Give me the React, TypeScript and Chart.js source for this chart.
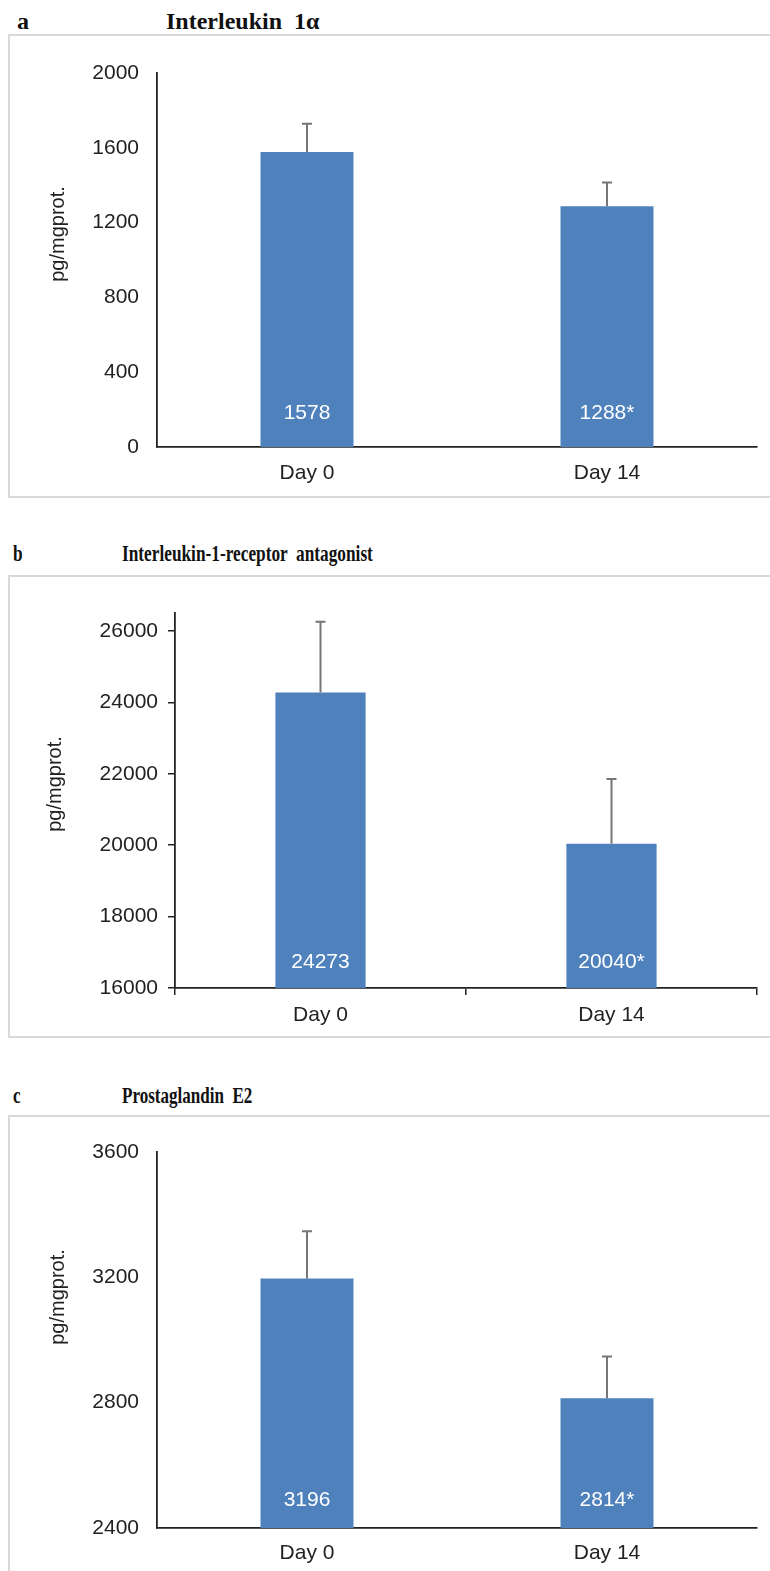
import React, { useEffect, useRef } from 'react';
import { Chart, registerables } from 'chart.js';

Chart.register(...registerables);

// ---------- data ----------
const categories = ['Day 0', 'Day 14'];

const il1aValues = [1578, 1288];
const il1aErrors = [150, 127];
const il1aLabels = ['1578', '1288*'];
const il1aTicks = [0, 400, 800, 1200, 1600, 2000];

const il1raValues = [24273, 20040];
const il1raErrors = [1980, 1815];
const il1raLabels = ['24273', '20040*'];
const il1raTicks = [16000, 18000, 20000, 22000, 24000, 26000];

const pge2Values = [3196, 2814];
const pge2Errors = [151, 133];
const pge2Labels = ['3196', '2814*'];
const pge2Ticks = [2400, 2800, 3200, 3600];

const yTitle = 'pg/mgprot.';

// ---------- styles ----------
const SANS = '"Liberation Sans", Arial, sans-serif';
const SERIF = '"Liberation Serif", "Times New Roman", serif';
const BAR_COLOR = '#4f81bd';
const AXIS_COLOR = '#222222';
const ERR_COLOR = '#767676';

const barExtras = {
  id: 'barExtras',
  afterDatasetsDraw(chart: any, _args: any, opts: any) {
    const ctx = chart.ctx;
    const yScale = chart.scales.y;
    const meta = chart.getDatasetMeta(0);
    const ds = chart.data.datasets[0];
    meta.data.forEach((bar: any, i: number) => {
      const v = ds.data[i] as number;
      const e = opts.errors[i];
      const yTop = yScale.getPixelForValue(v + e);
      ctx.save();
      ctx.strokeStyle = ERR_COLOR;
      ctx.lineWidth = 2;
      ctx.beginPath();
      ctx.moveTo(bar.x, bar.y);
      ctx.lineTo(bar.x, yTop);
      ctx.moveTo(bar.x - 5, yTop);
      ctx.lineTo(bar.x + 5, yTop);
      ctx.stroke();
      ctx.fillStyle = '#ffffff';
      ctx.font = `21px ${SANS}`;
      ctx.textAlign = 'center';
      ctx.textBaseline = 'middle';
      ctx.fillText(opts.labels[i], bar.x, chart.chartArea.bottom - opts.labelOffset);
      ctx.restore();
    });
    ctx.save();
    ctx.fillStyle = AXIS_COLOR;
    ctx.font = `20px ${SANS}`;
    ctx.textAlign = 'center';
    ctx.textBaseline = 'middle';
    ctx.translate(opts.titleX, opts.titleY);
    ctx.rotate(-Math.PI / 2);
    ctx.fillText(opts.title, 0, 0);
    ctx.restore();
  },
};

type PanelProps = {
  letter: string;
  heading: string;
  headingLeft: number;
  headingY: number;
  headingScale: number;
  letterLeft: number;
  boxTop: number;
  boxHeight: number;
  values: number[];
  errors: number[];
  labels: string[];
  ticks: number[];
  min: number;
  max: number;
  areaLeft: number;
  areaTop: number;
  areaBottom: number;
  withTicks: boolean;
  yPad: number;
  xPad: number;
  labelOffset: number;
  titleX: number;
  titleY: number;
};

const CANVAS_W = 760;
const AREA_RIGHT = 747;

function Panel(p: PanelProps) {
  const ref = useRef<HTMLCanvasElement | null>(null);
  const canvasH = p.boxHeight - 4;

  useEffect(() => {
    if (!ref.current) return;
    const tickList = p.ticks;
    const chart = new Chart(ref.current, {
      type: 'bar',
      data: {
        labels: categories,
        datasets: [
          {
            data: p.values,
            backgroundColor: BAR_COLOR,
            borderWidth: 0,
            categoryPercentage: 1,
            barPercentage: 0.31,
          },
        ],
      },
      plugins: [barExtras],
      options: {
        animation: false,
        responsive: false,
        devicePixelRatio: 1,
        layout: { padding: { left: 0, top: p.areaTop, right: CANVAS_W - AREA_RIGHT, bottom: 0 } },
        plugins: {
          legend: { display: false },
          tooltip: { enabled: false },
          title: { display: false },
          barExtras: {
            errors: p.errors,
            labels: p.labels,
            labelOffset: p.labelOffset,
            titleX: p.titleX,
            titleY: p.titleY,
            title: yTitle,
          },
        } as any,
        scales: {
          x: {
            type: 'category',
            offset: true,
            afterFit: (s: any) => {
              s.height = canvasH - p.areaBottom;
            },
            grid: {
              display: p.withTicks,
              drawOnChartArea: false,
              drawTicks: p.withTicks,
              tickLength: 7,
              color: AXIS_COLOR,
              lineWidth: 1.5,
              offset: true,
            },
            border: { display: true, color: AXIS_COLOR, width: 1.8 },
            ticks: {
              color: AXIS_COLOR,
              font: { family: SANS, size: 21 },
              padding: p.xPad,
              maxRotation: 0,
            },
          },
          y: {
            type: 'linear',
            min: p.min,
            max: p.max,
            afterFit: (s: any) => {
              s.width = p.areaLeft;
            },
            afterBuildTicks: (s: any) => {
              s.ticks = tickList.map((v) => ({ value: v }));
            },
            grid: {
              display: p.withTicks,
              drawOnChartArea: false,
              drawTicks: p.withTicks,
              tickLength: 7,
              color: AXIS_COLOR,
              lineWidth: 1.5,
            },
            border: { display: true, color: AXIS_COLOR, width: 1.8 },
            ticks: {
              color: AXIS_COLOR,
              font: { family: SANS, size: 21 },
              padding: p.yPad,
              callback: (v: any) => String(v),
            },
          },
        },
      } as any,
    });
    return () => chart.destroy();
  }, []);

  const headingStyle: React.CSSProperties = {
    position: 'absolute',
    top: p.headingY - 14,
    height: 28,
    lineHeight: '28px',
    fontFamily: SERIF,
    fontWeight: 'bold',
    fontSize: 24,
    color: '#111',
    whiteSpace: 'pre',
    transformOrigin: 'left center',
  };

  return (
    <>
      <div style={{ ...headingStyle, left: p.letterLeft, transform: `scaleX(${p.headingScale})` }}>
        {p.letter}
      </div>
      <div style={{ ...headingStyle, left: p.headingLeft, transform: `scaleX(${p.headingScale})` }}>
        {p.heading}
      </div>
      <div
        style={{
          position: 'absolute',
          left: 8,
          top: p.boxTop,
          width: 772,
          height: p.boxHeight,
          boxSizing: 'border-box',
          border: '2px solid #d9d9d9',
          background: '#fff',
        }}
      >
        <canvas
          ref={ref}
          width={CANVAS_W}
          height={canvasH}
          style={{ display: 'block', width: CANVAS_W, height: canvasH }}
        />
      </div>
    </>
  );
}

export default function App() {
  return (
    <div
      style={{
        position: 'absolute',
        left: 0,
        top: 0,
        width: 770,
        height: 1571,
        overflow: 'hidden',
        background: '#fff',
      }}
    >
      <Panel
        letter="a"
        heading={'Interleukin  1\u03b1'}
        headingLeft={166}
        headingY={21}
        headingScale={1.0}
        letterLeft={17}
        boxTop={34}
        boxHeight={464}
        values={il1aValues}
        errors={il1aErrors}
        labels={il1aLabels}
        ticks={il1aTicks}
        min={0}
        max={2000}
        areaLeft={147}
        areaTop={37}
        areaBottom={411}
        withTicks={false}
        yPad={18}
        xPad={14}
        labelOffset={34}
        titleX={48}
        titleY={198}
      />
      <Panel
        letter="b"
        heading={'Interleukin-1-receptor  antagonist'}
        headingLeft={122}
        headingY={553}
        headingScale={0.72}
        letterLeft={13}
        boxTop={575}
        boxHeight={463}
        values={il1raValues}
        errors={il1raErrors}
        labels={il1raLabels}
        ticks={il1raTicks}
        min={16000}
        max={26500}
        areaLeft={165}
        areaTop={36}
        areaBottom={411}
        withTicks={true}
        yPad={10}
        xPad={8}
        labelOffset={26}
        titleX={45}
        titleY={207}
      />
      <Panel
        letter="c"
        heading={'Prostaglandin  E2'}
        headingLeft={122}
        headingY={1095}
        headingScale={0.71}
        letterLeft={13}
        boxTop={1115}
        boxHeight={464}
        values={pge2Values}
        errors={pge2Errors}
        labels={pge2Labels}
        ticks={pge2Ticks}
        min={2400}
        max={3600}
        areaLeft={147}
        areaTop={35}
        areaBottom={411}
        withTicks={false}
        yPad={18}
        xPad={13}
        labelOffset={28}
        titleX={48}
        titleY={180}
      />
    </div>
  );
}
